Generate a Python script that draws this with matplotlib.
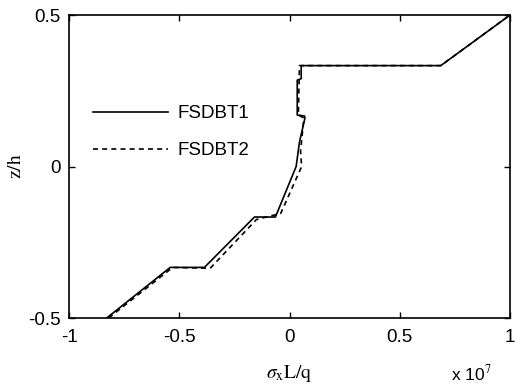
import numpy as np
import matplotlib
matplotlib.use('Agg')
import matplotlib.pyplot as plt

plt.rcParams['font.family'] = 'Liberation Sans'
plt.rcParams['mathtext.fontset'] = 'stix'

# stress sigma_x L/q in units of 1e7, thickness coordinate z/h
z_fsdbt1 = [-0.5, -0.333, -0.333, -0.1667, -0.1667, 0.0, 0.08, 0.16, 0.1667, 0.17, 0.285, 0.29, 0.333, 0.333, 0.5]
s_fsdbt1 = [-0.829, -0.541, -0.386, -0.159, -0.064, 0.03, 0.045, 0.07, 0.068, 0.035, 0.035, 0.053, 0.053, 0.686, 1.0]

z_fsdbt2 = [-0.5, -0.333, -0.336, -0.175, -0.155, 0.0, 0.05, 0.16, 0.17, 0.333, 0.333, 0.5]
s_fsdbt2 = [-0.82, -0.53, -0.36, -0.15, -0.04, 0.055, 0.05, 0.065, 0.04, 0.045, 0.686, 1.0]

fig = plt.figure(figsize=(5.17, 3.91), dpi=100)
ax = fig.add_axes([0.1335, 0.1867, 0.853, 0.7749])

lw = 1.2
ax.plot(s_fsdbt1, z_fsdbt1, '-', c='k', linewidth=lw, label='FSDBT1')
ax.plot(s_fsdbt2, z_fsdbt2, '--', c='k', linewidth=lw, dashes=(3, 2.5), label='FSDBT2')

ax.set_xlim(-1, 1)
ax.set_ylim(-0.5, 0.5)
ax.set_xticks([-1, -0.5, 0, 0.5, 1])
ax.set_xticklabels(['-1', '-0.5', '0', '0.5', '1'])
ax.set_yticks([-0.5, 0, 0.5])
ax.set_yticklabels(['-0.5', '0', '0.5'])
ax.tick_params(direction='in', top=True, right=True, length=4, width=1, labelsize=13.5)
ax.tick_params(axis='x', pad=8)
ax.tick_params(axis='y', pad=6)
for sp in ax.spines.values():
    sp.set_linewidth(1.2)

ax.set_xlabel(r'$\sigma_{\mathrm{x}}\mathrm{L/q}$', fontsize=14, labelpad=12)
ax.set_ylabel(r'$\mathrm{z/h}$', fontsize=14, labelpad=2)
fig.text(0.873, 0.028, r'x 10$^{7}$', fontsize=12.5)

ax.legend(loc='upper left', bbox_to_anchor=(0.054, 0.702), frameon=False, fontsize=13.5,
          handlelength=4.0, handletextpad=0.5, labelspacing=1.05, borderaxespad=0, borderpad=0)

fig.savefig('out.png', dpi=100)
